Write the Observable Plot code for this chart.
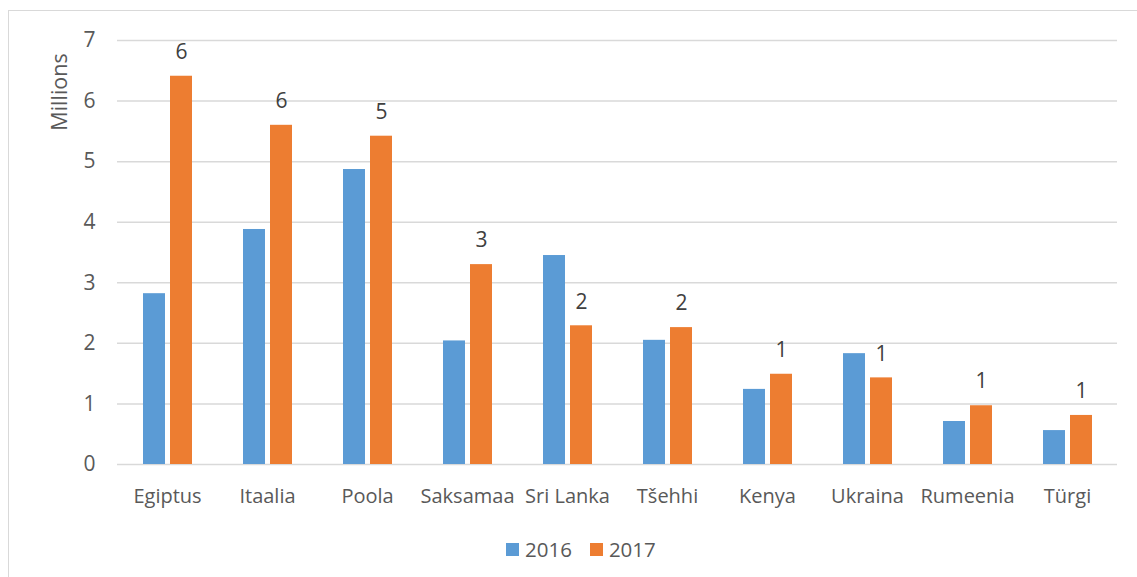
<!DOCTYPE html>
<html>
<head>
<meta charset="utf-8">
<script src="https://cdn.jsdelivr.net/npm/d3@7"></script>
<script src="https://cdn.jsdelivr.net/npm/@observablehq/plot@0.6"></script>
<style>
  html, body { margin: 0; padding: 0; background: #fff; }
  #wrap { position: relative; width: 1137px; height: 577px; overflow: hidden; background: #fff; }
  #frame { position: absolute; left: 8px; top: 10px; width: 1160px; height: 620px; border: 1.5px solid #D9D9D9; box-sizing: border-box; }
  #chart { position: absolute; left: 0; top: 0; }
  #legend { position: absolute; left: 506px; top: 535px; height: 28px; display: flex; align-items: center;
            font-family: 'Open Sans', sans-serif; font-size: 20.5px; color: #595959; }
  .sw { display: inline-block; width: 13px; height: 13px; margin-right: 6px; }
  .item { display: inline-flex; align-items: center; margin-right: 18px; }
</style>
</head>
<body>
<div id="wrap">
  <div id="frame"></div>
  <div id="chart"></div>
  <div id="legend"></div>
</div>
<script>
const countries = ["Egiptus", "Itaalia", "Poola", "Saksamaa", "Sri Lanka", "Tšehhi", "Kenya", "Ukraina", "Rumeenia", "Türgi"];
const years = ["2016", "2017"];
const values2016 = [2.82, 3.88, 4.87, 2.04, 3.45, 2.05, 1.24, 1.83, 0.71, 0.56];
const values2017 = [6.41, 5.60, 5.42, 3.30, 2.29, 2.26, 1.49, 1.43, 0.97, 0.81];
const yTicks = [0, 1, 2, 3, 4, 5, 6, 7];
const yLabel = "Millions";
const colors = ["#5B9BD5", "#ED7D31"];

const data = countries.flatMap((c, i) => [
  {country: c, year: years[0], value: values2016[i]},
  {country: c, year: years[1], value: values2017[i]}
]);

const chart = Plot.plot({
  width: 1137,
  height: 520,
  marginLeft: 117,
  marginRight: 20,
  marginTop: 40,
  marginBottom: 56,
  style: {fontFamily: "'Open Sans', sans-serif", fontSize: "20px", color: "#595959", background: "transparent"},
  fx: {domain: countries, padding: 0, label: null, axis: null},
  x: {domain: years, paddingInner: 0.196, paddingOuter: 0.884, axis: null},
  y: {domain: [0, 7], label: null, axis: null},
  color: {domain: years, range: colors},
  marks: [
    Plot.ruleY(yTicks, {stroke: "#D9D9D9", strokeWidth: 1.5}),
    Plot.barY(data, {fx: "country", x: "year", y: "value", fill: "year"}),
    Plot.text(data.filter(d => d.year === years[1]), {
      fx: "country", x: "year", y: "value",
      text: d => d3.format(".0f")(d.value),
      dy: -24, fontSize: 21, fill: "#404040"
    }),
    Plot.axisY({ticks: yTicks, tickFormat: d3.format("d"), tickSize: 0, tickPadding: 22, fontSize: 21, label: null}),
    Plot.axisFx({anchor: "bottom", tickSize: 0, tickPadding: 24, fontSize: 20, label: null})
  ]
});
document.getElementById("chart").appendChild(chart);

// y-axis unit label, placed at the top of the axis like the reference
d3.select(chart).append("text")
  .attr("transform", "translate(67,92) rotate(-90)")
  .attr("text-anchor", "middle")
  .attr("fill", "#595959")
  .attr("font-family", "'Open Sans', sans-serif")
  .attr("font-size", 21.5)
  .text(yLabel);

const legend = document.getElementById("legend");
years.forEach((y, i) => {
  const item = document.createElement("span");
  item.className = "item";
  const sw = document.createElement("span");
  sw.className = "sw";
  sw.style.background = colors[i];
  item.appendChild(sw);
  item.appendChild(document.createTextNode(y));
  legend.appendChild(item);
});
</script>
</body>
</html>
